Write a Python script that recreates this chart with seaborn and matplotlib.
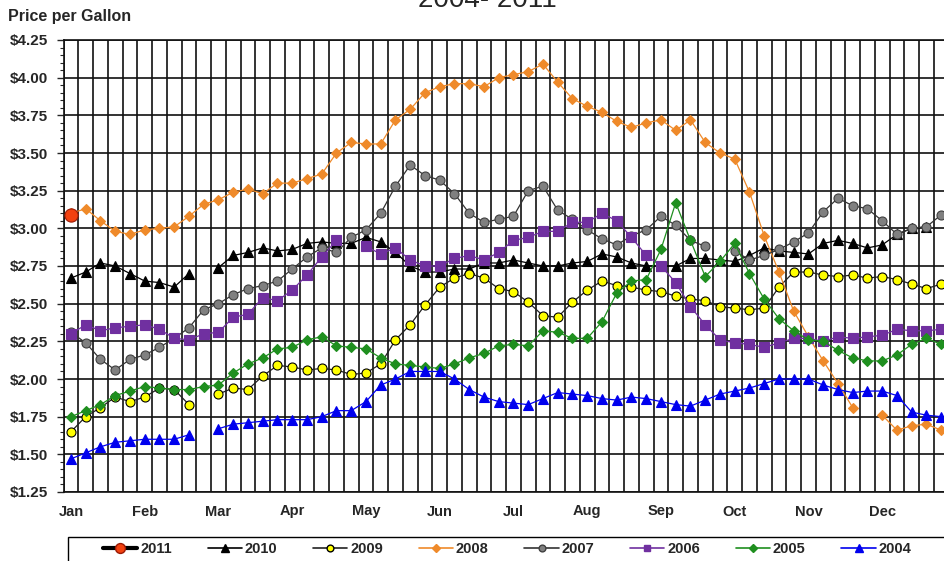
import numpy as np
import pandas as pd
import matplotlib
matplotlib.use('Agg')
import matplotlib.pyplot as plt
from matplotlib.lines import Line2D
from matplotlib.patches import Rectangle
from matplotlib.ticker import MultipleLocator, FixedLocator, FuncFormatter
import seaborn as sns

nan = np.nan

# weekly slots, 5 per month
months = ['Jan', 'Feb', 'Mar', 'Apr', 'May', 'Jun', 'Jul', 'Aug', 'Sep', 'Oct', 'Nov', 'Dec']
weeks = np.arange(60)

p2011 = [3.09] + [nan] * 59

p2010 = [2.67, 2.71, 2.77, 2.75, 2.70, 2.65, 2.64, 2.61, 2.70, nan,
         2.74, 2.82, 2.84, 2.87, 2.85, 2.86, 2.90, 2.91, 2.90, 2.90,
         2.94, 2.91, 2.84, 2.75, 2.71, 2.71, 2.73, 2.73, 2.77, 2.77,
         2.79, 2.77, 2.75, 2.75, 2.77, 2.78, 2.83, 2.81, 2.77, 2.75,
         2.75, 2.75, 2.80, 2.80, 2.79, 2.78, 2.82, 2.87, 2.85, 2.84,
         2.83, 2.90, 2.92, 2.90, 2.87, 2.89, 2.96, 3.00, 3.01, nan]

p2009 = [1.65, 1.75, 1.81, 1.88, 1.85, 1.88, 1.94, 1.93, 1.83, nan,
         1.90, 1.94, 1.93, 2.02, 2.09, 2.08, 2.06, 2.07, 2.06, 2.03,
         2.04, 2.10, 2.26, 2.36, 2.49, 2.61, 2.67, 2.70, 2.67, 2.60,
         2.58, 2.51, 2.42, 2.41, 2.51, 2.59, 2.65, 2.62, 2.61, 2.59,
         2.58, 2.55, 2.53, 2.52, 2.48, 2.47, 2.46, 2.47, 2.61, 2.71,
         2.71, 2.69, 2.68, 2.69, 2.67, 2.68, 2.66, 2.63, 2.60, 2.63]

p2008 = [3.10, 3.13, 3.05, 2.98, 2.96, 2.99, 3.00, 3.01, 3.08, 3.16,
         3.19, 3.24, 3.26, 3.23, 3.30, 3.30, 3.33, 3.36, 3.50, 3.57,
         3.56, 3.56, 3.72, 3.79, 3.90, 3.94, 3.96, 3.96, 3.94, 4.00,
         4.02, 4.04, 4.09, 3.97, 3.86, 3.81, 3.77, 3.71, 3.67, 3.70,
         3.72, 3.65, 3.72, 3.57, 3.50, 3.46, 3.24, 2.95, 2.71, 2.45,
         2.28, 2.12, 1.97, 1.81, nan, 1.76, 1.66, 1.69, 1.70, 1.66]

p2007 = [2.31, 2.24, 2.13, 2.06, 2.13, 2.16, 2.21, 2.27, 2.34, 2.46,
         2.50, 2.56, 2.60, 2.62, 2.65, 2.73, 2.81, 2.87, 2.84, 2.94,
         2.99, 3.10, 3.28, 3.42, 3.35, 3.32, 3.23, 3.10, 3.04, 3.06,
         3.08, 3.25, 3.28, 3.12, 3.06, 2.99, 2.93, 2.89, 2.95, 2.99,
         3.08, 3.02, 2.92, 2.88, nan, 2.85, 2.79, 2.82, 2.86, 2.91,
         2.97, 3.11, 3.20, 3.15, 3.13, 3.05, 2.96, 3.00, 3.01, 3.09]

p2006 = [2.30, 2.36, 2.32, 2.34, 2.35, 2.36, 2.33, 2.27, 2.26, 2.30,
         2.31, 2.41, 2.43, 2.54, 2.52, 2.59, 2.69, 2.81, 2.92, nan,
         2.88, 2.83, 2.87, 2.79, 2.75, 2.75, 2.80, 2.82, 2.79, 2.84,
         2.92, 2.94, 2.98, 2.98, 3.04, 3.04, 3.10, 3.05, 2.94, 2.82,
         2.75, 2.64, 2.48, 2.36, 2.26, 2.24, 2.23, 2.21, 2.24, 2.27,
         2.27, 2.25, 2.28, 2.27, 2.28, 2.29, 2.33, 2.32, 2.32, 2.33]

p2005 = [1.75, 1.79, 1.83, 1.89, 1.92, 1.95, 1.94, 1.93, 1.93, 1.95,
         1.96, 2.04, 2.10, 2.14, 2.20, 2.21, 2.26, 2.28, 2.22, 2.21,
         2.20, 2.14, 2.10, 2.09, 2.08, 2.07, 2.10, 2.14, 2.17, 2.22,
         2.23, 2.22, 2.32, 2.31, 2.27, 2.27, 2.38, 2.57, 2.65, 2.66,
         2.86, 3.17, 2.92, 2.68, 2.78, 2.90, 2.70, 2.53, 2.40, 2.32,
         2.26, 2.25, 2.19, 2.14, 2.12, 2.12, 2.16, 2.23, 2.27, 2.23]

p2004 = [1.47, 1.51, 1.55, 1.58, 1.59, 1.60, 1.60, 1.60, 1.63, nan,
         1.67, 1.70, 1.71, 1.72, 1.73, 1.73, 1.73, 1.75, 1.79, 1.79,
         1.85, 1.96, 2.00, 2.05, 2.05, 2.05, 2.00, 1.93, 1.88, 1.85,
         1.84, 1.83, 1.87, 1.91, 1.90, 1.89, 1.87, 1.86, 1.88, 1.87,
         1.85, 1.83, 1.82, 1.86, 1.90, 1.92, 1.94, 1.97, 2.00, 2.00,
         2.00, 1.96, 1.93, 1.91, 1.92, 1.92, 1.89, 1.78, 1.76, 1.75]

series = {'2011': p2011, '2010': p2010, '2009': p2009, '2008': p2008,
          '2007': p2007, '2006': p2006, '2005': p2005, '2004': p2004}

# line colour, marker, size, face, edge
styles = {
    '2011': ('black', 'o', 9.5, '#f2410f', '#9b1a05'),
    '2010': ('black', '^', 7, 'black', 'black'),
    '2009': ('#222222', 'o', 6.5, '#ffff00', 'black'),
    '2008': ('#ef8a2a', 'D', 5, '#ef8a2a', '#ef8a2a'),
    '2007': ('#333333', 'o', 6.5, '#808080', '#404040'),
    '2006': ('#7030a0', 's', 6.5, '#7030a0', '#7030a0'),
    '2005': ('#1f8f1f', 'D', 5, '#1f8f1f', '#1f8f1f'),
    '2004': ('#0000ee', '^', 7, '#0000ee', '#0000ee'),
}

sns.set_style('white')
plt.rcParams['font.family'] = ['Liberation Sans', 'DejaVu Sans']

fig = plt.figure(figsize=(9.45, 5.61), dpi=100)
ax = fig.add_axes([63.6 / 945, 69 / 561, 885 / 945, 452 / 561])

draw_order = ['2010', '2009', '2008', '2007', '2006', '2005', '2004', '2011']
for yr in draw_order:
    df = pd.DataFrame({'week': weeks, 'price': series[yr]})
    df['seg'] = df['price'].isna().cumsum()
    df = df.dropna()
    lc, mk, ms, fc, ec = styles[yr]
    sns.lineplot(data=df, x='week', y='price', units='seg', estimator=None,
                 color=lc, marker=mk, markersize=ms, markerfacecolor=fc,
                 markeredgecolor=ec, markeredgewidth=0.8,
                 linewidth=1.4 if yr == '2011' else 0.9,
                 ax=ax, legend=False, zorder=3)

ax.set_xlim(-0.5, 59.5)
ax.set_ylim(1.25, 4.25)
ax.xaxis.set_major_locator(FixedLocator(np.arange(0, 60, 5)))
ax.set_xticklabels(months)
ax.xaxis.set_minor_locator(FixedLocator(np.arange(-0.5, 60, 1)))
ax.yaxis.set_major_locator(MultipleLocator(0.25))
ax.yaxis.set_minor_locator(MultipleLocator(0.05))
ax.yaxis.set_major_formatter(FuncFormatter(lambda v, p: '${:.2f}'.format(v)))

ax.grid(which='minor', axis='x', color='#111111', linewidth=1.2)
ax.grid(which='major', axis='y', color='#111111', linewidth=1.2)
ax.set_axisbelow(True)
ax.tick_params(axis='x', which='both', length=0, pad=9, labelsize=10.5)
ax.tick_params(axis='y', which='major', direction='out', length=5, width=1,
               pad=6, labelsize=11, left=True)
ax.tick_params(axis='y', which='minor', direction='out', length=3, width=0.8, left=True)
for lab in ax.get_xticklabels() + ax.get_yticklabels():
    lab.set_fontweight('bold')
for s in ax.spines.values():
    s.set_color('#111111')
    s.set_linewidth(1.2)
ax.set_xlabel('')
ax.set_ylabel('')

fig.text(8 / 945, 1 - 16 / 561, 'Price per Gallon', fontsize=11.5, fontweight='bold',
         ha='left', va='center')
# title sits mostly above the top edge, as in the cropped original
fig.text(487 / 945, 1 - 7 / 561, '2004- 2011', fontsize=20, ha='center', va='baseline')

# legend box along the bottom edge
fig.patches.append(Rectangle((68 / 945, -0.05), 1.0, 0.05 + (561 - 537) / 561,
                             transform=fig.transFigure, facecolor='white',
                             edgecolor='black', linewidth=1.0, zorder=0))
handles = []
for yr in series:
    lc, mk, ms, fc, ec = styles[yr]
    handles.append(Line2D([], [], color=lc, linewidth=3 if yr == '2011' else 1.2,
                          marker=mk, markersize=ms * 0.75, markerfacecolor=fc,
                          markeredgecolor=ec))
leg = fig.legend(handles, list(series), ncol=8, loc='center left',
                 bbox_to_anchor=(103 / 945, 1 - 549 / 561), frameon=False,
                 borderaxespad=0, borderpad=0, handlelength=2.35,
                 handletextpad=0.2, columnspacing=2.45,
                 prop={'weight': 'bold', 'size': 10.5})

fig.savefig('out.png', dpi=100)
